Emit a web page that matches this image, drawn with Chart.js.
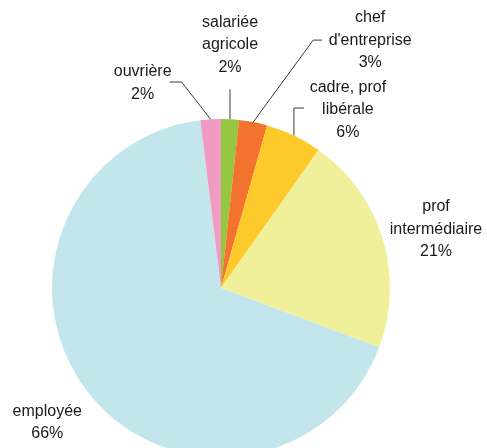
<!DOCTYPE html>
<html>
<head>
<meta charset="utf-8">
<script src="https://cdn.jsdelivr.net/npm/chart.js@4"></script>
<style>
  html, body { margin: 0; padding: 0; overflow: hidden; background: #fff; }
</style>
</head>
<body>
<canvas id="pie-chart" width="487" height="470"></canvas>
<script>
const categories = ["salariée agricole", "chef d'entreprise", "cadre, prof libérale", "prof intermédiaire", "employée", "ouvrière"];
const shares = [1.7, 2.7, 5.4, 20.9, 67.35, 1.95];
const pctLabels = ["2%", "3%", "6%", "21%", "66%", "2%"];
const labelLines = [["salariée", "agricole"], ["chef", "d'entreprise"], ["cadre, prof", "libérale"], ["prof", "intermédiaire"], ["employée"], ["ouvrière"]];
const colors = ["#95c840", "#f2722e", "#feca2b", "#f1f09a", "#c3e6ec", "#f09bc3"];

// label placement relative to the slice's outer edge at mid-angle
const labelPos = [
  { dx: 0, dy: -74.5, leader: [[0, -30]] },
  { dx: 117, dy: -82, leader: [[60, -82], [69, -82]] },
  { dx: 54, dy: -25.5, leader: [[0, -27.5], [10, -27.5]] },
  { dx: 53.5, dy: -9, leader: null },
  { dx: -41, dy: 30, leader: null },
  { dx: -68, dy: -36, leader: [[-29, -37.3], [-41, -37.3]] }
];

const pieLabels = {
  id: 'pieLabels',
  afterDraw(chart) {
    const ctx = chart.ctx;
    const arcs = chart.getDatasetMeta(0).data;
    ctx.save();
    ctx.font = '16px "Liberation Sans", Arial, sans-serif';
    ctx.fillStyle = '#1a1a1a';
    ctx.strokeStyle = '#3a3a3a';
    ctx.lineWidth = 1;
    ctx.textAlign = 'center';
    ctx.textBaseline = 'middle';
    arcs.forEach((arc, i) => {
      const p = arc.getProps(['x', 'y', 'startAngle', 'endAngle', 'outerRadius'], true);
      const mid = (p.startAngle + p.endAngle) / 2;
      const ax = p.x + Math.cos(mid) * p.outerRadius;
      const ay = p.y + Math.sin(mid) * p.outerRadius;
      const pos = labelPos[i];
      if (pos.leader) {
        ctx.beginPath();
        ctx.moveTo(ax, ay);
        pos.leader.forEach(pt => ctx.lineTo(ax + pt[0], ay + pt[1]));
        ctx.stroke();
      }
      const lines = labelLines[i].concat([pctLabels[i]]);
      const lh = 22.5;
      const cx = ax + pos.dx;
      const cy = ay + pos.dy;
      lines.forEach((t, k) => {
        ctx.fillText(t, cx, cy + (k - (lines.length - 1) / 2) * lh);
      });
    });
    ctx.restore();
  }
};

new Chart(document.getElementById("pie-chart"), {
  type: 'pie',
  data: {
    labels: categories,
    datasets: [{
      data: shares,
      backgroundColor: colors,
      borderWidth: 0
    }]
  },
  options: {
    responsive: false,
    animation: false,
    layout: { padding: { left: 52, right: 97, top: 119, bottom: 13 } },
    plugins: {
      legend: { display: false },
      tooltip: { enabled: false }
    }
  },
  plugins: [pieLabels]
});
</script>
</body>
</html>
